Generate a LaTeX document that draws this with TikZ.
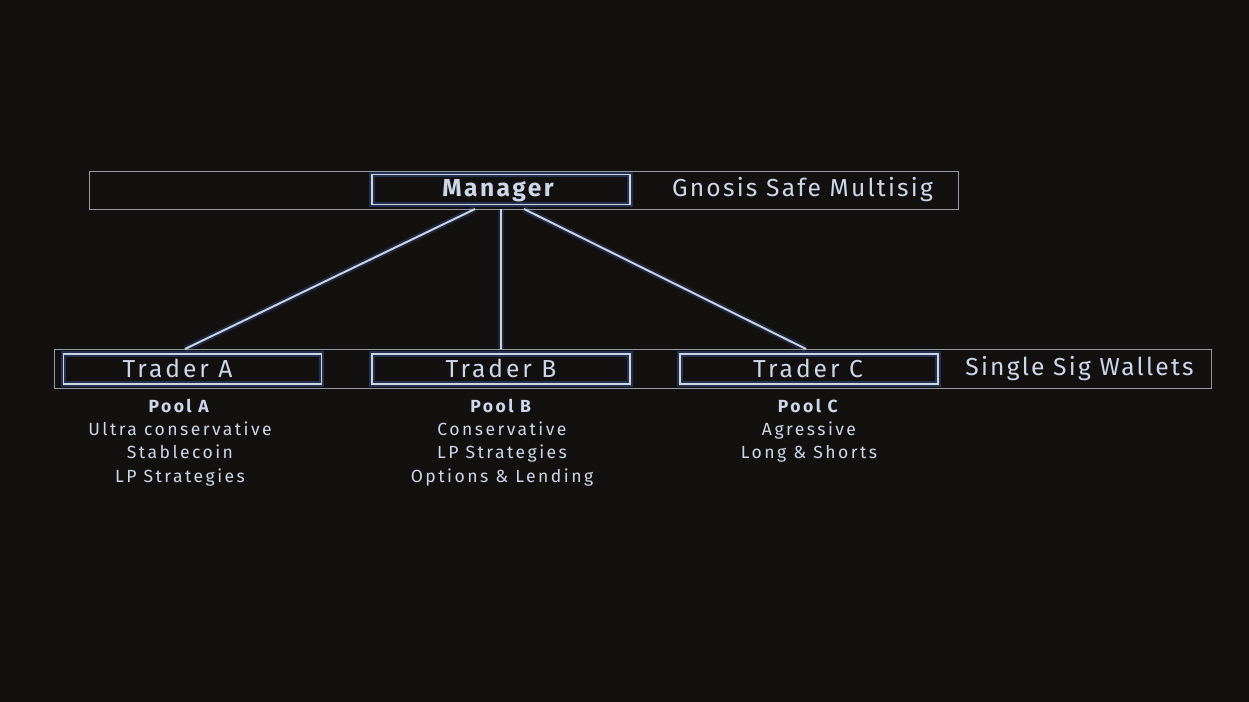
\documentclass[tikz,border=0pt]{standalone}
\usepackage{fontspec}
\setmainfont{Fira Sans}
\usepackage{tikz}
\usetikzlibrary{positioning, calc}
\definecolor{BgDark}{RGB}{18,17,16}
\definecolor{LineWhite}{RGB}{205,212,226}
\definecolor{TextWhite}{RGB}{206,214,234}
\definecolor{GlowBlue}{RGB}{80,120,230}

\tikzset{
  band/.style={draw=LineWhite!70!BgDark, line width=0.5pt, inner sep=0pt},
  box/.style={draw=LineWhite, line width=1pt, minimum width=258*0.02cm, minimum height=30*0.02cm,
              inner sep=0pt,
              preaction={draw=GlowBlue, draw opacity=0.3, line width=3pt}},
  boxtext/.style={text=TextWhite, font=\fontsize{14}{16}\selectfont\addfontfeature{LetterSpace=12}},
  label/.style={text=TextWhite, font=\fontsize{14}{16}\selectfont\addfontfeature{LetterSpace=9}},
  pooltext/.style={text=TextWhite, align=center,
                   font=\fontsize{10}{13.2}\selectfont\addfontfeature{LetterSpace=14}},
  glow/.style={GlowBlue, opacity=0.22, line width=3.5pt},
  wire/.style={LineWhite, line width=1.1pt}
}

\begin{document}
\begin{tikzpicture}[x=0.02cm, y=-0.02cm]
  % background
  \fill[BgDark] (0,0) rectangle (1249,702);

  % Manager band (multisig)
  \node[band, minimum width=869*0.02cm, minimum height=38*0.02cm] (topband) at (523.5,190) {};
  \node[box] (manager) at (501,189.5) {};
  \node[boxtext, font=\fontsize{14}{16}\selectfont\bfseries\addfontfeature{LetterSpace=10}]
    (managertxt) at ($(manager)+(-3,1)$) {Manager};
  \node[label] (safe) at (802.5,190) {Gnosis Safe Multisig};

  % Trader band (single sig)
  \node[band, minimum width=1157*0.02cm, minimum height=39*0.02cm] (botband) at (632.5,368.5) {};
  \foreach \name/\x/\dx in {A/192.5/-15, B/501/0, C/809/-1}{
    \node[box] (trader\name) at (\x,369) {};
    \node[boxtext] (trader\name txt) at ($(trader\name)+(\dx,-1)$) {Trader \name};
  }
  \node[label] (single) at (1079.5,369) {Single Sig Wallets};

  % pool descriptions
  \node[pooltext, anchor=north] (poolA) at (180,393)
    {\textbf{Pool A}\\Ultra conservative\\Stablecoin\\LP Strategies};
  \node[pooltext, anchor=north] (poolB) at (502,393)
    {\textbf{Pool B}\\Conservative\\LP Strategies\\Options \& Lending};
  \node[pooltext, anchor=north] (poolC) at (809,393)
    {\textbf{Pool C}\\Agressive\\Long \& Shorts};

  % connectors
  \coordinate (outA) at (475,209);
  \coordinate (outB) at (501,209);
  \coordinate (outC) at (524,209);
  \coordinate (inA) at (185,349);
  \coordinate (inB) at (501,349);
  \coordinate (inC) at (806,349);
  \foreach \t in {A,B,C}{
    \draw[glow] (out\t) -- (in\t);
    \draw[wire] (out\t) -- (in\t);
  }
\end{tikzpicture}
\end{document}
